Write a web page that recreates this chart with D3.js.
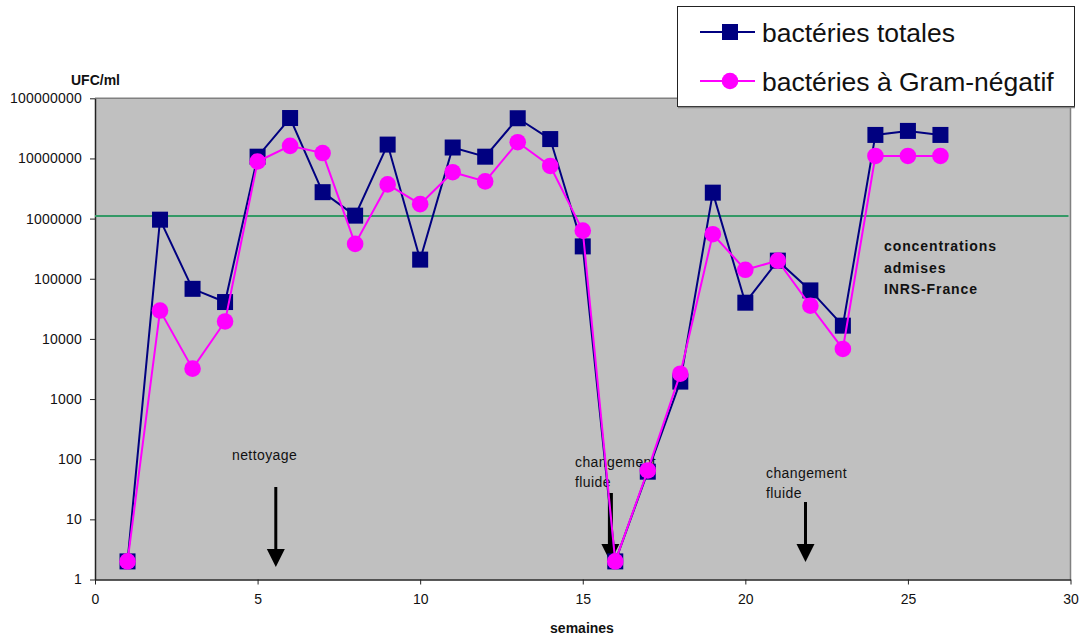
<!DOCTYPE html>
<html><head><meta charset="utf-8">
<script src="https://cdn.jsdelivr.net/npm/d3@7"></script>
<style>
body{margin:0;background:#fff;}
svg{display:block;font-family:"Liberation Sans",Arial,sans-serif;}
</style>
</head><body>
<svg id="chart" width="1083" height="637"></svg>
<script>
// ---- data ----
const weeks = [1,2,3,4,5,6,7,8,9,10,11,12,13,14,15,16,17,18,19,20,21,22,23,24,25,26];
const totalBacteria = [2, 960000, 68000, 41000, 10700000, 47000000, 2750000, 1120000, 17000000, 208000,
  15200000, 10700000, 46600000, 21000000, 345000, 2, 62, 1950, 2700000, 40000,
  200000, 64000, 16600, 24600000, 28700000, 24600000];
const gramNegative = [2, 29600, 3200, 19500, 8900000, 16200000, 12300000, 380000, 3700000, 1740000,
  5900000, 4150000, 18600000, 7500000, 630000, 2, 65, 2640, 550000, 141000,
  200000, 35600, 6800, 11000000, 11000000, 11000000];
const seriesNames = ["bactéries totales", "bactéries à Gram-négatif"];
const yTickValues = [1, 10, 100, 1000, 10000, 100000, 1000000, 10000000, 100000000];
const xTickValues = [0, 5, 10, 15, 20, 25, 30];
const thresholdValue = 1100000;
const thresholdLabel = ["concentrations", "admises", "INRS-France"];
const eventLabels = [["nettoyage"], ["changement", "fluide"], ["changement", "fluide"]];
const eventWeeks = [5.56, 15.85, 21.85];

// ---- layout ----
const svg = d3.select("#chart");
const L = 95, R = 1070.5, T = 98.3, B = 579.5;
const x = d3.scaleLinear().domain([0, 30]).range([L, R]);
const y = d3.scaleLog().domain([1, 1e8]).range([B, T]);

const navy = "#000080", magenta = "#FF00FF";

// plot background
svg.append("rect").attr("x", L).attr("y", T).attr("width", R - L).attr("height", B - T)
  .attr("fill", "#C0C0C0");
svg.append("line").attr("x1", L).attr("x2", R).attr("y1", T).attr("y2", T)
  .attr("stroke", "#808080").attr("stroke-width", 1.5);
svg.append("line").attr("x1", R).attr("x2", R).attr("y1", T).attr("y2", B)
  .attr("stroke", "#808080").attr("stroke-width", 1.5);

// axes
const yAxis = svg.append("g").attr("transform", `translate(${L},0)`)
  .call(d3.axisLeft(y).tickValues(yTickValues).tickFormat(d3.format("d")).tickSize(5).tickSizeOuter(0).tickPadding(8));
const xAxis = svg.append("g").attr("transform", `translate(0,${B})`)
  .call(d3.axisBottom(x).tickValues(xTickValues).tickFormat(d3.format("d")).tickSize(5).tickSizeOuter(0).tickPadding(10));
[yAxis, xAxis].forEach(g => {
  g.select(".domain").attr("stroke", "#222").attr("stroke-width", 1.5);
  g.selectAll(".tick line").attr("stroke", "#222");
  g.selectAll(".tick text").attr("font-size", 14).attr("fill", "#111")
    .attr("font-family", '"Liberation Sans",Arial,sans-serif');
});
yAxis.selectAll(".tick text").attr("letter-spacing", 0.2);

// axis titles
svg.append("text").attr("x", 71).attr("y", 85).attr("font-size", 14).attr("font-weight", "bold")
  .attr("fill", "#111").text("UFC/ml");
svg.append("text").attr("x", 582).attr("y", 633).attr("text-anchor", "middle").attr("font-size", 14)
  .attr("font-weight", "bold").attr("fill", "#111").text("semaines");

// threshold line
svg.append("line").attr("x1", L).attr("x2", R - 2).attr("y1", y(thresholdValue)).attr("y2", y(thresholdValue))
  .attr("stroke", "#339966").attr("stroke-width", 2);

// threshold label
const tl = svg.append("text").attr("x", 884).attr("y", 251).attr("font-size", 14).attr("font-weight", "bold")
  .attr("fill", "#111").attr("letter-spacing", 0.9);
thresholdLabel.forEach((s, i) => tl.append("tspan").attr("x", 884).attr("dy", i ? 21.5 : 0).text(s));

// event annotations
const evText = [
  {tx: 232, ty: 460, a0: 487, a1: 567, w: 3},
  {tx: 575, ty: 467, a0: 493, a1: 562, w: 5},
  {tx: 766, ty: 478, a0: 502, a1: 562, w: 3}
];
eventLabels.forEach((lines, i) => {
  const e = evText[i];
  const t = svg.append("text").attr("x", e.tx).attr("y", e.ty).attr("font-size", 14)
    .attr("fill", "#111").attr("letter-spacing", 0.4);
  lines.forEach((s, j) => t.append("tspan").attr("x", e.tx).attr("dy", j ? 19.5 : 0).text(s));
  const ax = x(eventWeeks[i]);
  svg.append("line").attr("x1", ax).attr("x2", ax).attr("y1", e.a0).attr("y2", e.a1 - 12)
    .attr("stroke", "#000").attr("stroke-width", e.w);
  svg.append("path").attr("d", `M${ax - 9},${e.a1 - 18}L${ax + 9},${e.a1 - 18}L${ax},${e.a1}Z`).attr("fill", "#000");
});

// series
const line = d3.line().x(d => x(d[0])).y(d => y(d[1]));
const s1 = weeks.map((w, i) => [w, totalBacteria[i]]);
const s2 = weeks.map((w, i) => [w, gramNegative[i]]);

svg.append("path").datum(s1).attr("d", line).attr("fill", "none").attr("stroke", navy).attr("stroke-width", 2);
svg.selectAll("rect.sq").data(s1).enter().append("rect").attr("class", "sq")
  .attr("x", d => x(d[0]) - 8).attr("y", d => y(d[1]) - 8).attr("width", 16).attr("height", 16)
  .attr("fill", navy);
svg.append("path").datum(s2).attr("d", line).attr("fill", "none").attr("stroke", magenta).attr("stroke-width", 2);
svg.selectAll("circle.ci").data(s2).enter().append("circle").attr("class", "ci")
  .attr("cx", d => x(d[0])).attr("cy", d => y(d[1])).attr("r", 8.3).attr("fill", magenta);

// legend
const lg = svg.append("g");
lg.append("rect").attr("x", 677.5).attr("y", 6.5).attr("width", 397).attr("height", 100)
  .attr("fill", "#fff").attr("stroke", "#222").attr("stroke-width", 1);
lg.append("line").attr("x1", 678).attr("x2", 1075).attr("y1", 107.5).attr("y2", 107.5)
  .attr("stroke", "#888").attr("stroke-width", 1.5);
const ly = [32, 81];
lg.append("line").attr("x1", 700).attr("x2", 755).attr("y1", ly[0]).attr("y2", ly[0]).attr("stroke", navy).attr("stroke-width", 2);
lg.append("rect").attr("x", 722).attr("y", ly[0] - 8).attr("width", 16).attr("height", 16).attr("fill", navy);
lg.append("line").attr("x1", 700).attr("x2", 755).attr("y1", ly[1]).attr("y2", ly[1]).attr("stroke", magenta).attr("stroke-width", 2);
lg.append("circle").attr("cx", 730).attr("cy", ly[1]).attr("r", 8.3).attr("fill", magenta);
seriesNames.forEach((n, i) => {
  lg.append("text").attr("x", 762).attr("y", ly[i] + 9.5).attr("font-size", 26.5).attr("fill", "#111").text(n);
});
</script>
</body></html>
